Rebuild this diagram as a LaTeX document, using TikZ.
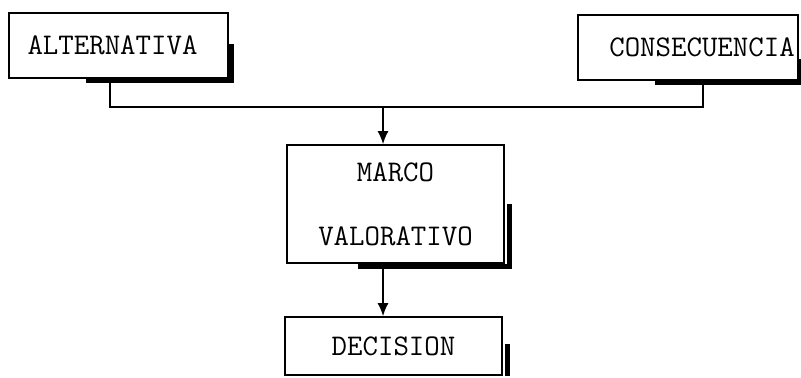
\documentclass[tikz,border=0pt]{standalone}
\usepackage{tikz}
\usetikzlibrary{arrows.meta}

\begin{document}
\begin{tikzpicture}[x=0.5pt,y=-0.5pt]
	\tikzset{caja/.style={draw, line width=0.8pt, inner sep=0pt, align=center,
			font=\fontsize{15}{32}\selectfont\ttfamily}}
	\tikzset{sombra/.style={line width=2.4pt}}
	\tikzset{linea/.style={line width=0.9pt}}
	\tikzset{flecha/.style={linea, -{Latex[length=6.5pt,width=5.5pt]}}}
	\useasboundingbox (0,0) rectangle (801,377);

	\node[caja, minimum width=109.5pt, minimum height=32.5pt] (alt) at (118.5,45.5) {\raisebox{-2pt}{ALTERNATIVA}\hspace{6pt}};
	\node[caja, minimum width=110pt, minimum height=32.5pt] (cons) at (688,47.5) {\hspace{14pt}CONSECUENCIA};
	\node[caja, minimum width=108.5pt, minimum height=59pt] (marco) at (395.5,204) {MARCO\\VALORATIVO};
	\node[caja, minimum width=108.5pt, minimum height=29pt] (dec) at (393.5,346) {\raisebox{-2pt}{DECISION}};

	% sombras
	\draw[sombra] (alt.north east) ++(3,32) -- ++(0,36) -- ++(-146,0);
	\draw[sombra] (cons.north east) ++(1,45) -- ++(0,23) -- ++(-145,0);
	\draw[sombra] (marco.north east) ++(5,60) -- ++(0,62) -- ++(-152,0);
	\draw[sombra] (dec.north east) ++(5,28) -- ++(0,32);

	\coordinate (jl) at (110,107);
	\coordinate (jr) at (703,107);
	\coordinate (jm) at (383,107);
	\draw[linea] (alt.south -| jl) -- (jl) -- (jr) -- (cons.south -| jr);
	\draw[flecha] (jm) -- (marco.north -| jm);
	\draw[flecha] (marco.south -| jm) -- (dec.north -| jm);
\end{tikzpicture}
\end{document}
